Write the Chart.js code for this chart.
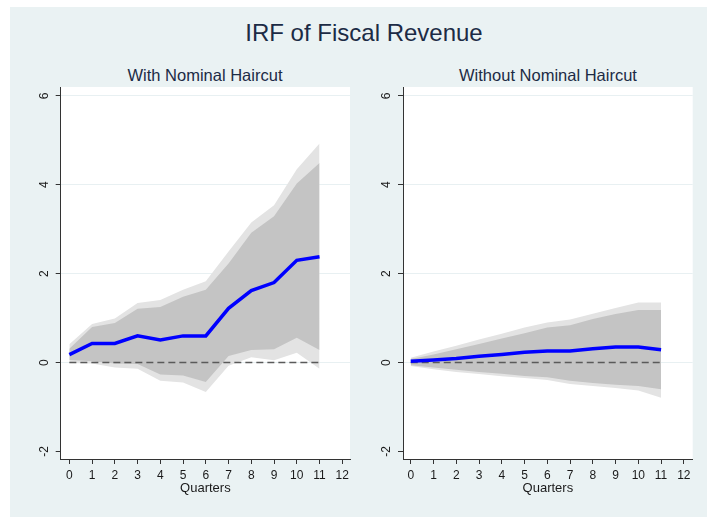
<!DOCTYPE html>
<html>
<head>
<meta charset="utf-8">
<script src="https://cdn.jsdelivr.net/npm/chart.js@4.4.1/dist/chart.umd.min.js"></script>
<style>
  html, body { margin: 0; padding: 0; background: #ffffff; }
  #page { position: relative; width: 707px; height: 517px; overflow: hidden; }
  #region { position: absolute; left: 10px; top: 7px; width: 697px; height: 510px; background: #eaf2f3; }
  .ttl { position: absolute; text-align: center; color: #1c2b45;
         font-family: 'Liberation Sans', Arial, sans-serif; white-space: nowrap; }
  #mainTitle { left: 164px; width: 400px; top: 21px; font-size: 24px; line-height: 24px; }
  .sub { font-size: 16.5px; line-height: 16.5px; top: 67px; }
  #subLeft { left: 55px; width: 300px; }
  #subRight { left: 398px; width: 300px; }
  canvas { position: absolute; top: 0; }
</style>
</head>
<body>
<div id="page">
  <div id="region"></div>
  <div id="mainTitle" class="ttl">IRF of Fiscal Revenue</div>
  <div id="subLeft" class="ttl sub">With Nominal Haircut</div>
  <div id="subRight" class="ttl sub">Without Nominal Haircut</div>
  <canvas id="chartWith" width="355" height="517" style="left:0;width:355px;height:517px"></canvas>
  <canvas id="chartWithout" width="352" height="517" style="left:355px;width:352px;height:517px"></canvas>
</div>
<script>
// horizon (quarters) and axis ticks
const quarters = [0, 1, 2, 3, 4, 5, 6, 7, 8, 9, 10, 11];
const xTicks = [0, 1, 2, 3, 4, 5, 6, 7, 8, 9, 10, 11, 12];
const yTicks = [-2, 0, 2, 4, 6];

// With nominal haircut
const withIrf  = [0.18, 0.43, 0.43, 0.60, 0.51, 0.60, 0.60, 1.22, 1.62, 1.80, 2.30, 2.38];
const withHi90 = [0.41, 0.87, 0.99, 1.34, 1.41, 1.64, 1.83, 2.50, 3.15, 3.54, 4.35, 4.93];
const withHi68 = [0.31, 0.80, 0.89, 1.21, 1.25, 1.48, 1.64, 2.23, 2.92, 3.29, 4.03, 4.49];
const withLo68 = [0.06, 0.03, -0.02, -0.03, -0.27, -0.29, -0.44, 0.15, 0.28, 0.30, 0.56, 0.28];
const withLo90 = [-0.01, -0.02, -0.11, -0.14, -0.41, -0.45, -0.66, -0.07, 0.12, 0.05, 0.22, -0.14];

// Without nominal haircut
const woIrf  = [0.03, 0.06, 0.09, 0.14, 0.18, 0.23, 0.26, 0.26, 0.31, 0.35, 0.35, 0.29];
const woHi90 = [0.11, 0.25, 0.38, 0.52, 0.65, 0.79, 0.90, 0.97, 1.10, 1.23, 1.35, 1.35];
const woHi68 = [0.08, 0.18, 0.30, 0.42, 0.54, 0.66, 0.79, 0.84, 0.98, 1.09, 1.18, 1.18];
const woLo68 = [-0.06, -0.11, -0.16, -0.21, -0.25, -0.30, -0.33, -0.41, -0.46, -0.50, -0.53, -0.60];
const woLo90 = [-0.08, -0.15, -0.21, -0.26, -0.31, -0.35, -0.39, -0.48, -0.53, -0.57, -0.63, -0.79];

const zeroLine = quarters.map(() => 0);

const colors = {
    light: '#e3e3e3',
    dark: '#c4c4c4',
    irf: '#0000ff',
    zero: '#5a5a5a',
    axis: '#333333',
    grid: '#e8f0f2',
    text: '#1a1a1a'
};

Chart.defaults.font.family = "'Liberation Sans', Arial, sans-serif";
Chart.defaults.color = colors.text;

const plotBackground = {
    id: 'plotBackground',
    beforeDraw(chart) {
        const a = chart.chartArea;
        const ctx = chart.ctx;
        ctx.save();
        ctx.fillStyle = '#ffffff';
        ctx.fillRect(a.left, a.top, a.right - a.left, a.bottom - a.top);
        ctx.restore();
    }
};

function pts(arr) {
    return quarters.map((q, i) => ({ x: q, y: arr[i] }));
}

function edge(arr, fill, color, order) {
    return {
        data: pts(arr),
        borderWidth: 0,
        borderColor: 'rgba(0,0,0,0)',
        backgroundColor: color,
        pointRadius: 0,
        fill: fill,
        order: order
    };
}

function makeChart(id, irf, hi90, lo90, hi68, lo68, geo) {
    return new Chart(document.getElementById(id), {
        type: 'line',
        data: {
            datasets: [
                edge(hi90, '+1', colors.light, 5),
                edge(lo90, false, colors.light, 5),
                edge(hi68, '+1', colors.dark, 4),
                edge(lo68, false, colors.dark, 4),
                {
                    data: pts(zeroLine),
                    borderColor: colors.zero,
                    borderWidth: 1.5,
                    borderDash: [7, 4],
                    pointRadius: 0,
                    fill: false,
                    order: 2
                },
                {
                    data: pts(irf),
                    borderColor: colors.irf,
                    borderWidth: 3.5,
                    pointRadius: 0,
                    tension: 0,
                    fill: false,
                    order: 1
                }
            ]
        },
        options: {
            responsive: false,
            animation: false,
            events: [],
            layout: { padding: { left: 0, top: 87, right: geo.padRight, bottom: 0 } },
            plugins: {
                legend: { display: false },
                tooltip: { enabled: false },
                title: { display: false }
            },
            scales: {
                x: {
                    type: 'linear',
                    min: geo.xMin,
                    max: geo.xMax,
                    afterBuildTicks: (s) => { s.ticks = xTicks.map(v => ({ value: v })); },
                    afterFit: (s) => { s.height = 58; },
                    grid: {
                        drawOnChartArea: false,
                        drawTicks: true,
                        tickLength: 5,
                        tickColor: colors.axis
                    },
                    border: { color: colors.axis, width: 1 },
                    ticks: {
                        font: { size: 12 },
                        padding: 4,
                        maxRotation: 0,
                        autoSkip: false,
                        callback: (v) => String(v)
                    },
                    title: {
                        display: true,
                        text: 'Quarters',
                        font: { size: 13 },
                        color: colors.text,
                        padding: { top: 21, bottom: 21 }
                    }
                },
                y: {
                    min: -2.17,
                    max: 6.2,
                    afterBuildTicks: (s) => { s.ticks = yTicks.map(v => ({ value: v })); },
                    afterFit: (s) => { s.width = geo.yWidth; },
                    grid: {
                        color: (c) => (c.tick && c.tick.value === -2) ? 'rgba(0,0,0,0)' : colors.grid,
                        lineWidth: 1,
                        drawTicks: true,
                        tickLength: 5,
                        tickColor: colors.axis
                    },
                    border: { color: colors.axis, width: 1 },
                    ticks: {
                        font: { size: 12 },
                        padding: 6,
                        minRotation: 90,
                        maxRotation: 90,
                        crossAlign: 'center',
                        callback: (v) => String(v)
                    }
                }
            }
        },
        plugins: [plotBackground]
    });
}

makeChart('chartWith', withIrf, withHi90, withLo90, withHi68, withLo68,
    { xMin: -0.38, xMax: 12.34, yWidth: 60.7, padRight: 5 });
makeChart('chartWithout', woIrf, woHi90, woLo90, woHi68, woLo68,
    { xMin: -0.34, xMax: 12.39, yWidth: 48, padRight: 14.3 });
</script>
</body>
</html>
